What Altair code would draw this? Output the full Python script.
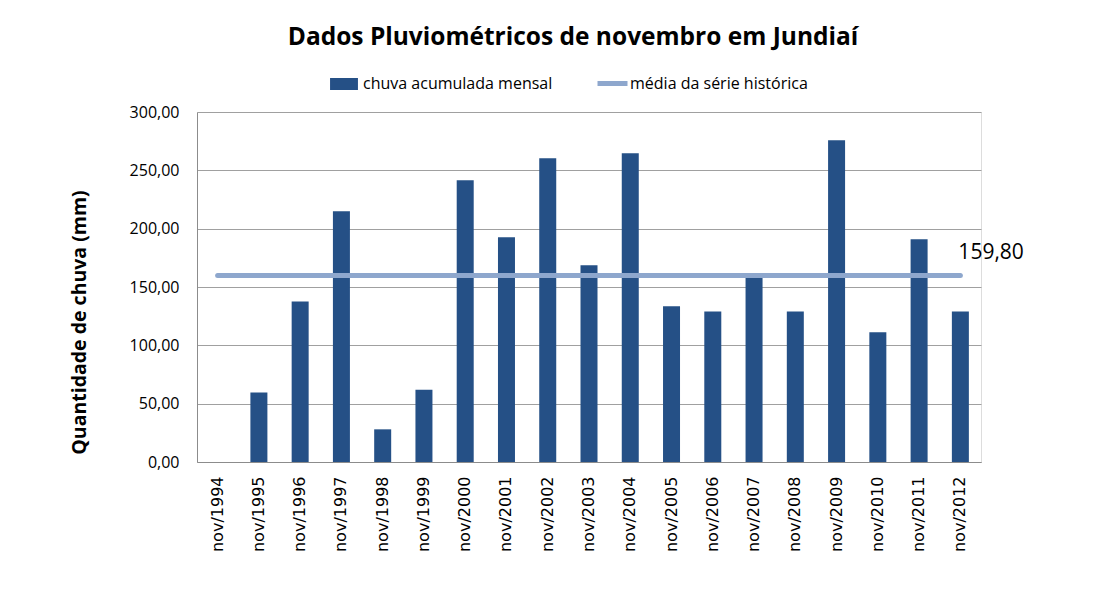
import altair as alt
import pandas as pd

# ---- data ----
categories = ["nov/1994", "nov/1995", "nov/1996", "nov/1997", "nov/1998", "nov/1999",
              "nov/2000", "nov/2001", "nov/2002", "nov/2003", "nov/2004", "nov/2005",
              "nov/2006", "nov/2007", "nov/2008", "nov/2009", "nov/2010", "nov/2011",
              "nov/2012"]
rain = [0, 59.5, 137.5, 214.9, 28.0, 62.0, 241.4, 192.6, 260.3, 168.6, 264.6, 133.4,
        129.1, 159.4, 129.1, 275.7, 111.2, 190.9, 129.1]
mean_value = 159.80
series_names = ["chuva acumulada mensal", "média da série histórica"]
mean_label = "159,80"

BAR_COLOR = "#255086"
LINE_COLOR = "#8EA7CD"
FONT = "Open Sans"

bars_df = pd.DataFrame({"cat": categories, "valor": rain, "serie": series_names[0]})
line_df = pd.DataFrame({"cat": categories, "valor": [mean_value] * len(categories),
                        "serie": series_names[1]})
label_df = pd.DataFrame({"cat": [categories[-1]], "valor": [mean_value], "txt": [mean_label]})

x_enc = alt.X("cat:N", sort=categories, title=None,
              scale=alt.Scale(paddingInner=0, paddingOuter=0),
              axis=alt.Axis(labelAngle=-90, labelAlign="right", labelBaseline="middle",
                            labelFont="DejaVu Sans", labelFontSize=16, labelColor="#000000",
                            labelPadding=14, ticks=False, domainColor="#8c8c8c",
                            domainWidth=1, grid=False))
y_enc = alt.Y("valor:Q", title="Quantidade de chuva (mm)",
              scale=alt.Scale(domain=[0, 300], nice=False),
              axis=alt.Axis(values=[0, 50, 100, 150, 200, 250, 300],
                            labelExpr="replace(format(datum.value, '.2f'), '.', ',')",
                            labelFont=FONT, labelFontSize=16, labelColor="#000000",
                            labelPadding=18, ticks=False, domainColor="#8c8c8c",
                            domainWidth=1, gridColor="#a0a0a0", gridWidth=1,
                            titleFont=FONT, titleFontSize=19.5, titleFontWeight="bold",
                            titleColor="#000000", titleAngle=-90, titleX=-118, titleY=210,
                            titleAlign="center", titleBaseline="middle"))

bar_legend = alt.Legend(
    title=None, orient="none", legendX=132, legendY=-43, direction="horizontal",
    labelFont=FONT, labelFontSize=16, labelColor="#000000", labelOffset=4, labelLimit=400,
    symbolSize=900, symbolType="M-0.93,-0.4H0.93V0.4H-0.93Z", symbolStrokeWidth=0,
    symbolOpacity=1)
line_legend = alt.Legend(
    title=None, orient="none", legendX=398, legendY=-46, direction="horizontal",
    labelFont=FONT, labelFontSize=16, labelColor="#000000", labelOffset=0, labelLimit=400,
    symbolSize=900, symbolType="stroke", symbolStrokeWidth=5, symbolOpacity=1)

bars = alt.Chart(bars_df).mark_bar(size=17).encode(
    x=x_enc, y=y_enc,
    fill=alt.Fill("serie:N", scale=alt.Scale(domain=[series_names[0]], range=[BAR_COLOR]),
                  legend=bar_legend))

line = alt.Chart(line_df).mark_line(strokeWidth=5, strokeCap="round").encode(
    x=alt.X("cat:N", sort=categories), y=alt.Y("valor:Q"),
    stroke=alt.Stroke("serie:N", scale=alt.Scale(domain=[series_names[1]], range=[LINE_COLOR]),
                      legend=line_legend))

label = alt.Chart(label_df).mark_text(align="left", baseline="alphabetic", dx=-2, dy=-17,
                                      font=FONT, fontSize=21, color="#000000").encode(
    x=alt.X("cat:N", sort=categories), y=alt.Y("valor:Q"), text="txt:N")

chart = alt.layer(bars, line, label).properties(
    width=784, height=350,
    title=alt.TitleParams("Dados Pluviométricos de novembro em Jundiaí", font=FONT,
                          fontSize=24.5, fontWeight="bold", color="#000000",
                          anchor="middle", dx=-16, offset=16),
    autosize=alt.AutoSizeParams(type="none"),
    padding={"left": 189, "top": 104, "right": 120, "bottom": 118},
).configure_view(stroke=None).configure(background="white")

chart.save("out.html", embed_options={"renderer": "svg", "actions": False})
